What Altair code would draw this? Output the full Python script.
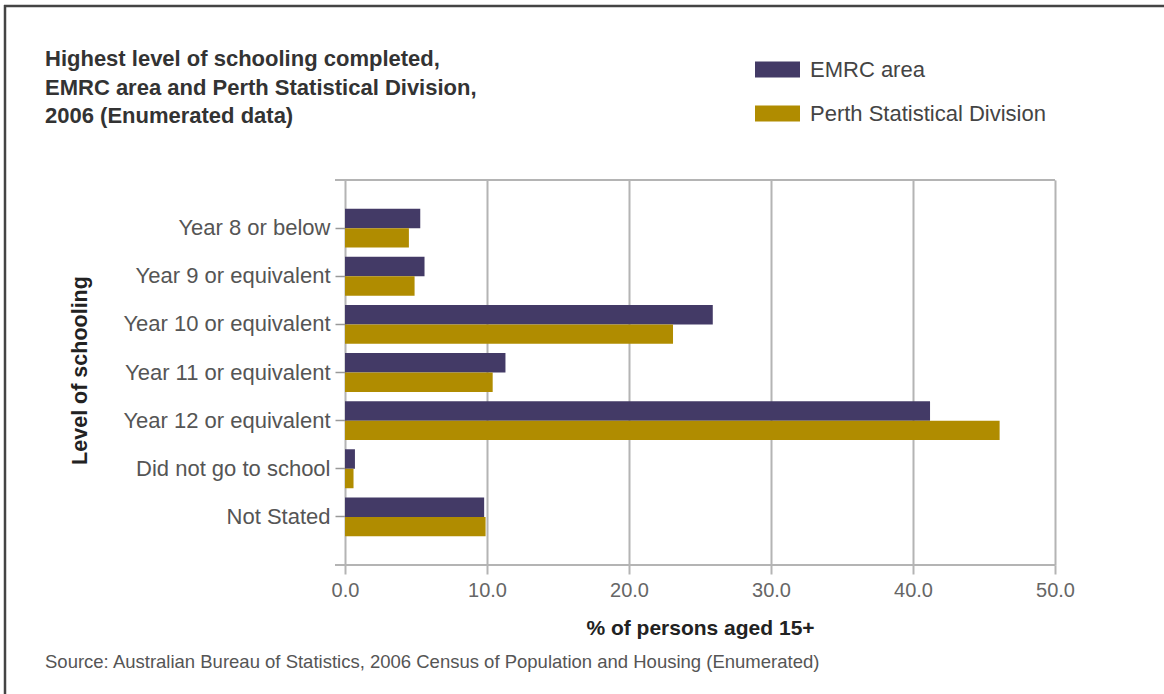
import altair as alt
import pandas as pd

categories = [
    "Year 8 or below",
    "Year 9 or equivalent",
    "Year 10 or equivalent",
    "Year 11 or equivalent",
    "Year 12 or equivalent",
    "Did not go to school",
    "Not Stated",
]
series_names = ["EMRC area", "Perth Statistical Division"]
emrc = [5.3, 5.6, 25.9, 11.3, 41.2, 0.7, 9.8]
perth = [4.5, 4.9, 23.1, 10.4, 46.1, 0.6, 9.9]
x_ticks = [0, 10, 20, 30, 40, 50]
colors = ["#433a66", "#b08c00"]

title_lines = [
    "Highest level of schooling completed,",
    "EMRC area and Perth Statistical Division,",
    "2006 (Enumerated data)",
]
source_text = "Source: Australian Bureau of Statistics, 2006 Census of Population and Housing (Enumerated)"

rows = []
for c, a, b in zip(categories, emrc, perth):
    rows.append({"level": c, "series": series_names[0], "value": a})
    rows.append({"level": c, "series": series_names[1], "value": b})
df = pd.DataFrame(rows)

FONT = "Liberation Sans"

bars = alt.Chart(df).mark_bar().encode(
    x=alt.X(
        "value:Q",
        scale=alt.Scale(domain=[0, 50], nice=False),
        axis=alt.Axis(
            values=x_ticks,
            format=".1f",
            title="% of persons aged 15+",
            grid=True,
            gridColor="#b4b4b4",
            gridWidth=2,
            domain=False,
            tickColor="#b4b4b4",
            tickWidth=2,
            tickSize=9,
            labelFontSize=20,
            labelColor="#666666",
            labelPadding=6,
            labelFlush=False,
            labelFont=FONT,
            titleFont=FONT,
            titleFontSize=21,
            titleFontWeight="bold",
            titleColor="#222222",
            titleY=63,
            titleBaseline="middle",
        ),
    ),
    y=alt.Y(
        "level:N",
        sort=categories,
        scale=alt.Scale(paddingInner=0.19, paddingOuter=0.595),
        axis=alt.Axis(
            title="Level of schooling",
            domain=False,
            grid=False,
            tickColor="#999999",
            tickWidth=1.5,
            tickSize=10,
            labelFontSize=22,
            labelColor="#555555",
            labelPadding=5,
            labelLimit=0,
            labelFont=FONT,
            titleFont=FONT,
            titleFontSize=21.5,
            titleFontWeight="bold",
            titleColor="#222222",
            titleAngle=270,
            titleX=-265,
            titleY=190,
            titleAlign="center",
            titleBaseline="middle",
        ),
    ),
    yOffset=alt.YOffset("series:N", sort=series_names,
                        scale=alt.Scale(paddingInner=0, paddingOuter=0)),
    color=alt.Color(
        "series:N",
        sort=series_names,
        scale=alt.Scale(domain=series_names, range=colors),
        legend=alt.Legend(
            title=None,
            orient="none",
            legendX=410,
            legendY=-133,
            symbolType="M-1,-0.36L1,-0.36L1,0.36L-1,0.36Z",
            symbolSize=2025,
            symbolStrokeWidth=0,
            labelFontSize=22,
            labelFont=FONT,
            labelColor="#444444",
            labelOffset=10,
            labelLimit=0,
            rowPadding=10,
            padding=0,
        ),
    ),
)

one = pd.DataFrame({"k": [0]})

frame_lines = alt.Chart(one).mark_rule(color="#b4b4b4", strokeWidth=2).encode(
    x=alt.value(-10), x2=alt.value(710), y=alt.value(0)
) + alt.Chart(one).mark_rule(color="#b4b4b4", strokeWidth=2).encode(
    x=alt.value(-10), x2=alt.value(710), y=alt.value(385)
)

outer_top = alt.Chart(one).mark_rule(color="#444444", strokeWidth=2.5).encode(
    x=alt.value(-341), x2=alt.value(820), y=alt.value(-174)
)
outer_left = alt.Chart(one).mark_rule(color="#444444", strokeWidth=2.5).encode(
    x=alt.value(-340), y=alt.value(-175), y2=alt.value(515)
)

title = alt.Chart(one).mark_text(
    align="left", baseline="alphabetic", fontSize=22, fontWeight="bold",
    font=FONT, color="#333333", lineHeight=28.5
).encode(x=alt.value(-300), y=alt.value(-114), text=alt.value(title_lines))

source = alt.Chart(one).mark_text(
    align="left", baseline="middle", fontSize=18.5, font=FONT, color="#555555"
).encode(x=alt.value(-300), y=alt.value(482), text=alt.value(source_text))

chart = alt.layer(bars, frame_lines, outer_top, outer_left, title, source).properties(
    width=710,
    height=385,
    autosize=alt.AutoSizeParams(type="none"),
    padding={"left": 345, "top": 180, "right": 109, "bottom": 129},
).configure_view(
    fill="#e4e4e4", stroke="#b4b4b4", strokeWidth=2
).configure(background="white")

chart.save("out.html", embed_options={"renderer": "svg", "actions": False})
